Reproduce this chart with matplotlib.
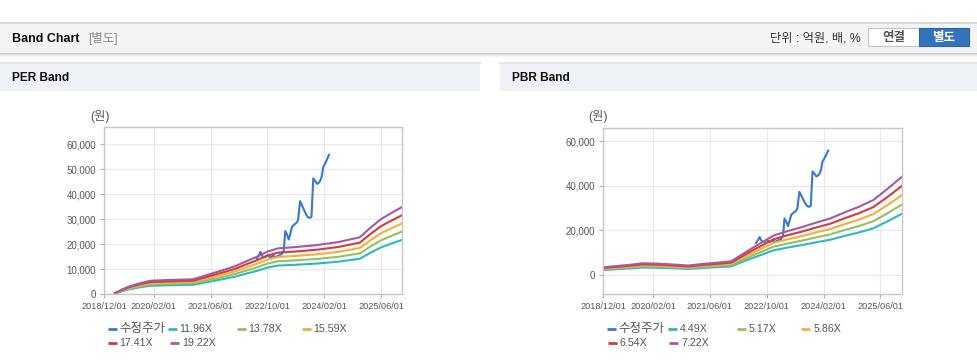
import matplotlib
matplotlib.use('Agg')
import matplotlib.pyplot as plt
import numpy as np
from matplotlib.patches import Rectangle
from matplotlib.lines import Line2D
from matplotlib.ticker import FuncFormatter, FixedLocator

plt.rcParams['font.family'] = ['Liberation Sans', 'Noto Sans CJK KR']

# ---------------- data ----------------
# x axis: months since 2018/12/01
tick_months = [0, 14, 30, 46, 62, 78]
tick_labels = ['2018/12/01', '2020/02/01', '2021/06/01', '2022/10/01', '2024/02/01', '2025/06/01']

# 수정주가 (thousand won)
price_months = [43.0, 43.5, 44.0, 44.6, 45.3, 46.0, 46.8, 47.6, 48.4, 49.2, 50.0, 50.6, 51.0, 51.5, 52.0,
                52.5, 52.9, 53.5, 54.1, 54.6, 55.2, 55.7, 56.3, 56.9, 57.4, 58.0, 58.4, 58.9, 59.5, 60.0,
                60.5, 60.9, 61.3, 61.7, 62.3, 62.8, 63.3]
price_k = [14.3, 15.4, 16.9, 15.0, 14.7, 15.6, 14.6, 15.3, 14.8, 15.4, 16.0, 17.5, 25.2, 23.8, 21.8,
           24.5, 26.9, 27.8, 28.4, 29.5, 37.2, 35.6, 33.7, 31.8, 30.7, 30.5, 30.9, 46.3, 45.2, 44.1,
           44.6, 45.5, 47.2, 50.8, 52.4, 54.0, 55.7]

# PER bands (thousand won)
per_months = [3, 5, 7, 10, 13, 18, 25, 28, 31, 34, 37, 40, 43, 46, 49, 54, 60, 66, 72, 75, 78, 81, 84]
per_1196 = [0.19, 1.12, 1.87, 2.68, 3.30, 3.48, 3.67, 4.48, 5.29, 6.10, 6.97, 8.15, 9.27, 10.58, 11.39,
            11.70, 12.20, 12.94, 14.13, 16.49, 18.67, 20.22, 21.72]
per_1378 = [0.22, 1.29, 2.15, 3.08, 3.80, 4.02, 4.23, 5.16, 6.09, 7.03, 8.03, 9.39, 10.68, 12.19, 13.12,
            13.48, 14.05, 14.91, 16.28, 19.00, 21.51, 23.30, 25.02]
per_1559 = [0.24, 1.46, 2.43, 3.49, 4.30, 4.54, 4.79, 5.84, 6.89, 7.95, 9.08, 10.63, 12.09, 13.79, 14.84,
            15.25, 15.90, 16.87, 18.41, 21.49, 24.33, 26.36, 28.31]
per_1741 = [0.27, 1.63, 2.72, 3.89, 4.80, 5.07, 5.34, 6.52, 7.70, 8.88, 10.14, 11.87, 13.50, 15.40, 16.58,
            17.03, 17.75, 18.84, 20.56, 24.00, 27.17, 29.44, 31.61]
per_1922 = [0.30, 1.80, 3.00, 4.30, 5.30, 5.60, 5.90, 7.20, 8.50, 9.80, 11.20, 13.10, 14.90, 17.00, 18.30,
            18.80, 19.60, 20.80, 22.70, 26.50, 30.00, 32.50, 34.90]
per_labels = ['11.96X', '13.78X', '15.59X', '17.41X', '19.22X']

# PBR bands (thousand won)
pbr_months = [0, 4, 8, 11, 16, 20, 24, 28, 33, 36, 39, 42, 45, 48, 52, 56, 60, 64, 68, 72, 76, 80, 84]
pbr_449 = [2.05, 2.43, 2.80, 3.17, 3.05, 2.80, 2.55, 2.99, 3.42, 3.73, 5.60, 7.46, 9.20, 10.95, 12.19,
           13.31, 14.55, 15.73, 17.41, 18.97, 20.83, 23.94, 27.30]
pbr_517 = [2.36, 2.79, 3.22, 3.65, 3.51, 3.22, 2.94, 3.44, 3.94, 4.30, 6.44, 8.59, 10.60, 12.60, 14.04,
           15.32, 16.76, 18.12, 20.05, 21.84, 23.99, 27.57, 31.44]
pbr_586 = [2.68, 3.17, 3.65, 4.14, 3.98, 3.65, 3.33, 3.90, 4.46, 4.87, 7.30, 9.74, 12.01, 14.28, 15.91,
           17.37, 18.99, 20.53, 22.72, 24.75, 27.19, 31.25, 35.63]
pbr_654 = [2.99, 3.53, 4.08, 4.62, 4.44, 4.08, 3.71, 4.35, 4.98, 5.43, 8.15, 10.87, 13.41, 15.94, 17.75,
           19.38, 21.20, 22.92, 25.36, 27.63, 30.34, 34.87, 39.77]
pbr_722 = [3.30, 3.90, 4.50, 5.10, 4.90, 4.50, 4.10, 4.80, 5.50, 6.00, 9.00, 12.00, 14.80, 17.60, 19.60,
           21.40, 23.40, 25.30, 28.00, 30.50, 33.50, 38.50, 43.90]
pbr_labels = ['4.49X', '5.17X', '5.86X', '6.54X', '7.22X']

price_label = '수정주가'
colors = ['#3877d2', '#2db7c7', '#93c160', '#f5ad3c', '#d83a3a', '#a15aa5']

# ---------------- layout helpers ----------------
W, H = 978, 361
fig = plt.figure(figsize=(W / 100, H / 100), dpi=100)
fig.patch.set_facecolor('white')


def fx(x):
    return x / W


def fy(y):
    return 1 - y / H


def rect(x0, y0, x1, y1, fc, ec='none', lw=0.0, z=0):
    fig.add_artist(Rectangle((fx(x0), fy(y1)), fx(x1) - fx(x0), fy(y0) - fy(y1),
                             transform=fig.transFigure, facecolor=fc, edgecolor=ec,
                             linewidth=lw, zorder=z))


def hline(x0, x1, y, color, lw=1.0, z=1):
    fig.add_artist(Line2D([fx(x0), fx(x1)], [fy(y), fy(y)], transform=fig.transFigure,
                          color=color, lw=lw, zorder=z))


# header bar
rect(0, 22, 978, 52, '#f4f4f4')
hline(0, 978, 22.5, '#dadada', 1.4)
hline(0, 978, 52.5, '#c8c8c8', 1.0)
hline(0, 978, 53.6, '#dcdcdc', 1.0)
hline(0, 978, 54.7, '#ececec', 1.0)
hline(0, 978, 55.8, '#f6f6f6', 1.0)
fig.text(fx(12), fy(38.5), 'Band Chart', fontsize=9, fontweight='bold', va='center', color='#111111')
fig.text(fx(88), fy(38.5), '[별도]', fontsize=8.9, va='center', color='#8a8a8a')
fig.text(fx(861), fy(38.5), '단위 : 억원, 배, %', fontsize=8.8, va='center', ha='right', color='#333333')
rect(868, 28, 919, 46, 'white', ec='#c4c4c4', lw=0.8, z=2)
fig.text(fx(893.5), fy(37.5), '연결', fontsize=9, fontweight='bold', va='center', ha='center',
         color='#555555', zorder=3)
rect(919, 28, 969, 46, '#3574bd', ec='#2c64a6', lw=0.8, z=2)
fig.text(fx(944), fy(37.5), '별도', fontsize=9, fontweight='bold', va='center', ha='center',
         color='white', zorder=3)

# panel headers
for (x0, x1, title) in [(0, 480, 'PER Band'), (500, 978, 'PBR Band')]:
    rect(x0, 62, x1, 91, '#eef1f6')
    hline(x0, x1, 62.6, '#e1e5ec', 1.4)
    fig.text(fx(x0 + 12), fy(78), title, fontsize=8.6, fontweight='bold', va='center', color='#111111')


def fmt(v, pos):
    return '{:,}'.format(int(round(v)))


def setup_axes(ax, ylim, yticks):
    ax.set_xlim(0, 84)
    ax.set_ylim(*ylim)
    ax.xaxis.set_major_locator(FixedLocator(tick_months))
    ax.set_xticklabels(tick_labels)
    ax.set_yticks(yticks)
    ax.yaxis.set_major_formatter(FuncFormatter(fmt))
    ax.grid(True, color='#e8e8e8', lw=0.8)
    ax.set_axisbelow(True)
    for s in ax.spines.values():
        s.set_color('#c6c6c6')
        s.set_linewidth(1.0)
    ax.tick_params(axis='x', length=3, width=0.8, color='#b0b0b0', labelsize=6.6,
                   labelcolor='#555555', pad=3)
    ax.tick_params(axis='y', length=3, width=0.8, color='#b0b0b0', labelsize=7.0,
                   labelcolor='#555555', pad=3)


def draw_legend(x_items, labels):
    for (mx, ry), lab, c in zip(x_items, labels, colors):
        fig.add_artist(Line2D([fx(mx), fx(mx + 9)], [fy(ry), fy(ry)], transform=fig.transFigure,
                              color=c, lw=2.0, solid_capstyle='butt'))
        size = 9.0 if lab == price_label else 7.7
        fig.text(fx(mx + 12), fy(ry), lab, fontsize=size, va='center', ha='left', color='#555555')


# ---------------- PER chart ----------------
ax1 = fig.add_axes([fx(104.3), fy(294), fx(402.3) - fx(104.3), fy(126.7) - fy(294)])
setup_axes(ax1, (0, 67000), [0, 10000, 20000, 30000, 40000, 50000, 60000])
ax1.plot(price_months, np.array(price_k) * 1000, color=colors[0], lw=1.5, label=price_label)
for vals, lab, c in zip([per_1196, per_1378, per_1559, per_1741, per_1922], per_labels, colors[1:]):
    ax1.plot(per_months, np.array(vals) * 1000, color=c, lw=1.5, label=lab)
fig.text(fx(100), fy(116.5), '(원)', fontsize=8.8, ha='center', va='center', color='#555555')
draw_legend([(107.7, 329.3), (167.7, 329.3), (236.7, 329.3), (301.7, 329.3), (107.7, 342.7), (170, 342.7)],
            [price_label] + per_labels)

# ---------------- PBR chart ----------------
ax2 = fig.add_axes([fx(603.3), fy(294), fx(901.7) - fx(603.3), fy(127.7) - fy(294)])
setup_axes(ax2, (-8700, 66000), [0, 20000, 40000, 60000])
ax2.plot(price_months, np.array(price_k) * 1000, color=colors[0], lw=1.5, label=price_label)
for vals, lab, c in zip([pbr_449, pbr_517, pbr_586, pbr_654, pbr_722], pbr_labels, colors[1:]):
    ax2.plot(pbr_months, np.array(vals) * 1000, color=c, lw=1.5, label=lab)
fig.text(fx(598), fy(116.5), '(원)', fontsize=8.8, ha='center', va='center', color='#555555')
draw_legend([(606.7, 329.3), (668, 329.3), (736.7, 329.3), (801.5, 329.3), (607.7, 342.7), (669, 342.7)],
            [price_label] + pbr_labels)

fig.savefig('out.png', dpi=100)
